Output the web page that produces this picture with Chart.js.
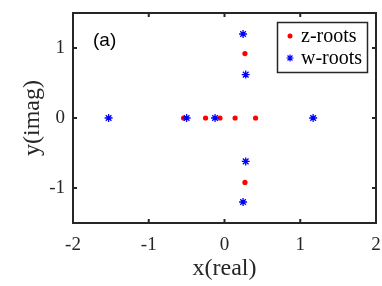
<!DOCTYPE html>
<html>
<head>
<meta charset="utf-8">
<script src="https://cdn.jsdelivr.net/npm/chart.js@4.4.1/dist/chart.umd.min.js"></script>
<style>
html,body{margin:0;padding:0;background:#fff;}
#c{display:block;}
</style>
</head>
<body>
<canvas id="c" width="382" height="286"></canvas>
<script>
// Data
const zReal = [-0.54, -0.25, -0.06, 0.14, 0.41, 0.27, 0.27];
const zImag = [0, 0, 0, 0, 0, 0.92, -0.92];
const wReal = [-1.53, -0.50, -0.125, 1.17, 0.245, 0.28, 0.28, 0.245];
const wImag = [0, 0, 0, 0, 1.2, 0.62, -0.62, -1.2];
const xTicks = [-2, -1, 0, 1, 2];
const yTicks = [-1, 0, 1];
const seriesNames = ['z-roots', 'w-roots'];
const panelLabel = '(a)';

const AX = '#262626';
const SERIF = '"Liberation Serif", "Times New Roman", serif';
const SANS = '"Liberation Sans", Arial, sans-serif';

function pts(xs, ys){ return xs.map((x,i)=>({x:x, y:ys[i]})); }

function drawStar(ctx, x, y, r){
  ctx.beginPath();
  ctx.moveTo(x - r, y); ctx.lineTo(x + r, y);
  ctx.moveTo(x, y - r); ctx.lineTo(x, y + r);
  const d = r * Math.SQRT1_2;
  ctx.moveTo(x - d, y - d); ctx.lineTo(x + d, y + d);
  ctx.moveTo(x - d, y + d); ctx.lineTo(x + d, y - d);
  ctx.stroke();
}

const framePlugin = {
  id: 'frame',
  afterDraw(chart){
    const ctx = chart.ctx;
    const a = chart.chartArea;
    const xs = chart.scales.x, ys = chart.scales.y;
    ctx.save();
    ctx.strokeStyle = AX;
    ctx.lineWidth = 2;
    ctx.strokeRect(a.left, a.top, a.right - a.left, a.bottom - a.top);
    const tl = 4;
    ctx.beginPath();
    xTicks.forEach(v=>{
      const p = xs.getPixelForValue(v);
      ctx.moveTo(p, a.bottom); ctx.lineTo(p, a.bottom - tl);
      ctx.moveTo(p, a.top); ctx.lineTo(p, a.top + tl);
    });
    yTicks.forEach(v=>{
      const p = ys.getPixelForValue(v);
      ctx.moveTo(a.left, p); ctx.lineTo(a.left + tl, p);
      ctx.moveTo(a.right, p); ctx.lineTo(a.right - tl, p);
    });
    ctx.stroke();

    // panel label
    ctx.fillStyle = '#000';
    ctx.font = '19px ' + SANS;
    ctx.textAlign = 'left';
    ctx.textBaseline = 'middle';
    ctx.fillText(panelLabel, 93, 41);

    // legend
    const bx = 277, by = 22, bw = 90, bh = 50;
    ctx.fillStyle = '#fff';
    ctx.fillRect(bx, by, bw, bh);
    ctx.lineWidth = 1.5;
    ctx.strokeStyle = AX;
    ctx.strokeRect(bx + 0.5, by + 0.5, bw, bh);
    ctx.fillStyle = '#f00';
    ctx.beginPath();
    ctx.arc(290, 36, 2.5, 0, Math.PI * 2);
    ctx.fill();
    ctx.strokeStyle = '#00f';
    ctx.lineWidth = 1.2;
    drawStar(ctx, 290, 58, 3.5);
    ctx.fillStyle = '#000';
    ctx.font = '20px ' + SERIF;
    ctx.textAlign = 'left';
    ctx.textBaseline = 'middle';
    ctx.fillText(seriesNames[0], 301, 37);
    ctx.fillText(seriesNames[1], 301, 59);
    ctx.restore();
  }
};

new Chart(document.getElementById('c'), {
  type: 'scatter',
  data: {
    datasets: [
      {
        label: seriesNames[0],
        data: pts(zReal, zImag),
        pointStyle: 'circle',
        pointRadius: 2.6,
        backgroundColor: '#ff0000',
        borderColor: '#ff0000',
        borderWidth: 0,
        order: 1
      },
      {
        label: seriesNames[1],
        data: pts(wReal, wImag),
        pointStyle: 'star',
        pointRadius: 4,
        backgroundColor: '#0000ff',
        borderColor: '#0000ff',
        borderWidth: 1.3,
        order: 0
      }
    ]
  },
  options: {
    responsive: false,
    animation: false,
    devicePixelRatio: 1,
    layout: { padding: { top: 13, right: 6, left: 0, bottom: 0 } },
    plugins: { legend: { display: false }, tooltip: { enabled: false } },
    scales: {
      x: {
        type: 'linear',
        min: -2, max: 2,
        grid: { display: false, drawTicks: false, tickLength: 0 },
        border: { display: false },
        afterBuildTicks: s => { s.ticks = xTicks.map(v => ({ value: v })); },
        afterFit: s => { s.height = 63; s.paddingLeft = 0; s.paddingRight = 0; },
        ticks: {
          color: AX, padding: 13, maxRotation: 0, autoSkip: false,
          font: { family: SERIF, size: 19, lineHeight: 1 }
        },
        title: {
          display: true, text: 'x(real)', color: AX,
          font: { family: SERIF, size: 24, lineHeight: 1 },
          padding: { top: 0, bottom: 5 }
        }
      },
      y: {
        type: 'linear',
        min: -1.5, max: 1.5,
        grid: { display: false, drawTicks: false, tickLength: 0 },
        border: { display: false },
        afterBuildTicks: s => { s.ticks = yTicks.map(v => ({ value: v })); },
        afterFit: s => { s.width = 73; s.paddingTop = 0; s.paddingBottom = 0; },
        ticks: {
          color: AX, padding: 8, autoSkip: false,
          font: { family: SERIF, size: 19, lineHeight: 1 }
        },
        title: {
          display: true, text: 'y(imag)', color: AX,
          font: { family: SERIF, size: 24, lineHeight: 1 },
          padding: { top: 21, bottom: 0 }
        }
      }
    }
  },
  plugins: [framePlugin]
});
</script>
</body>
</html>
